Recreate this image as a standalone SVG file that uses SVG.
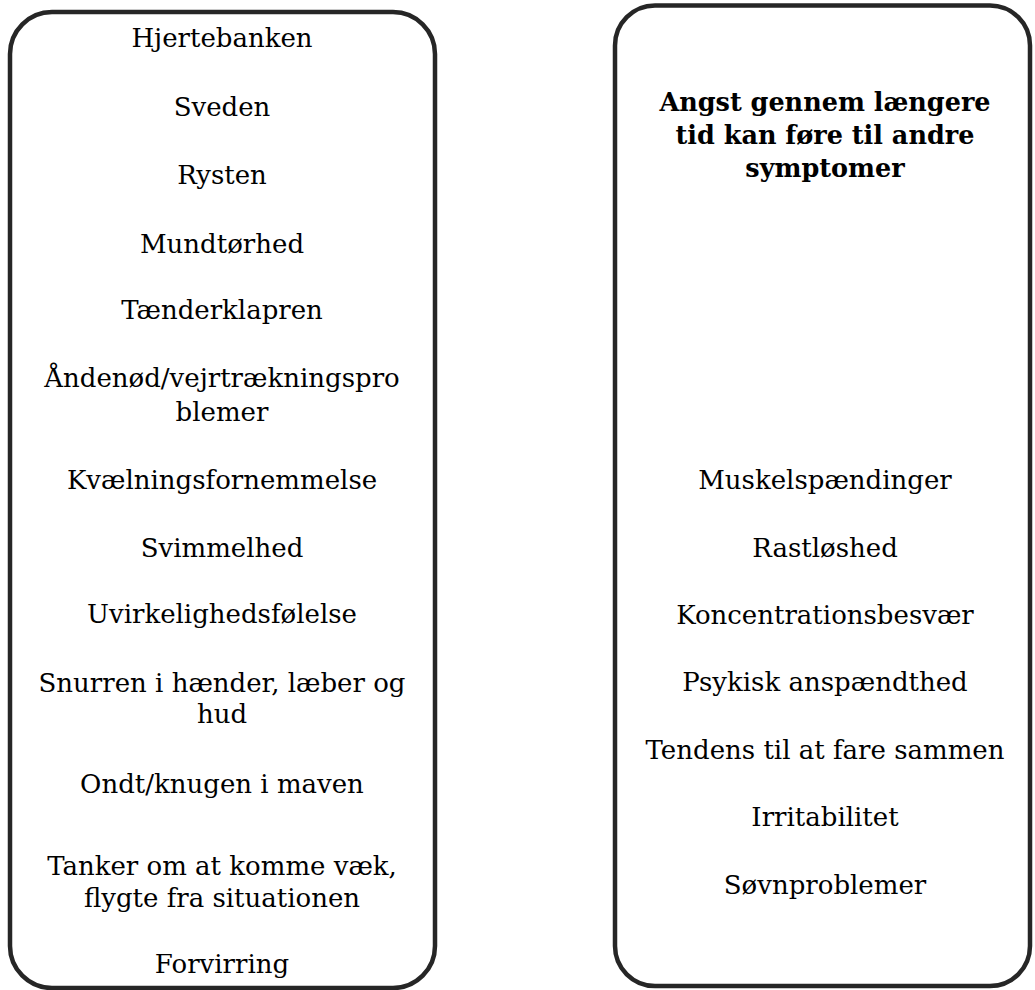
<svg xmlns="http://www.w3.org/2000/svg" width="1035" height="990" viewBox="0 0 1035 990">
  <style>
    .box { fill: #ffffff; stroke: #262626; stroke-width: 4.5; }
    .t { font-family: "DejaVu Serif", "Liberation Serif", serif; font-size: 26px; fill: #000000; text-anchor: middle; }
    .title { font-family: "DejaVu Serif", "Liberation Serif", serif; font-size: 25.5px; font-weight: bold; fill: #000000; text-anchor: middle; }
  </style>
  <rect width="1035" height="990" fill="#ffffff"/>
  <g id="connectors"/>
  <g id="node-left">
    <rect class="box" x="10" y="12" width="425" height="976" rx="42" ry="42"/>
    <text class="t" x="222" y="47">Hjertebanken</text>
    <text class="t" x="222" y="116">Sveden</text>
    <text class="t" x="222" y="184">Rysten</text>
    <text class="t" x="222" y="253">Mundtørhed</text>
    <text class="t" x="222" y="319">Tænderklapren</text>
    <text class="t" x="222" y="387">Åndenød/vejrtrækningspro</text>
    <text class="t" x="222" y="421">blemer</text>
    <text class="t" x="222" y="489">Kvælningsfornemmelse</text>
    <text class="t" x="222" y="557">Svimmelhed</text>
    <text class="t" x="222" y="623">Uvirkelighedsfølelse</text>
    <text class="t" x="222" y="692">Snurren i hænder, læber og</text>
    <text class="t" x="222" y="723">hud</text>
    <text class="t" x="222" y="793">Ondt/knugen i maven</text>
    <text class="t" x="222" y="875">Tanker om at komme væk,</text>
    <text class="t" x="222" y="907">flygte fra situationen</text>
    <text class="t" x="222" y="973">Forvirring</text>
  </g>
  <g id="node-right">
    <rect class="box" x="615" y="5.5" width="415" height="980.5" rx="40" ry="40"/>
    <text class="title" x="825" y="111">Angst gennem længere</text>
    <text class="title" x="825" y="144">tid kan føre til andre</text>
    <text class="title" x="825" y="177">symptomer</text>
    <text class="t" x="825" y="489">Muskelspændinger</text>
    <text class="t" x="825" y="557">Rastløshed</text>
    <text class="t" x="825" y="624">Koncentrationsbesvær</text>
    <text class="t" x="825" y="691">Psykisk anspændthed</text>
    <text class="t" x="825" y="759">Tendens til at fare sammen</text>
    <text class="t" x="825" y="826">Irritabilitet</text>
    <text class="t" x="825" y="894">Søvnproblemer</text>
  </g>
</svg>
